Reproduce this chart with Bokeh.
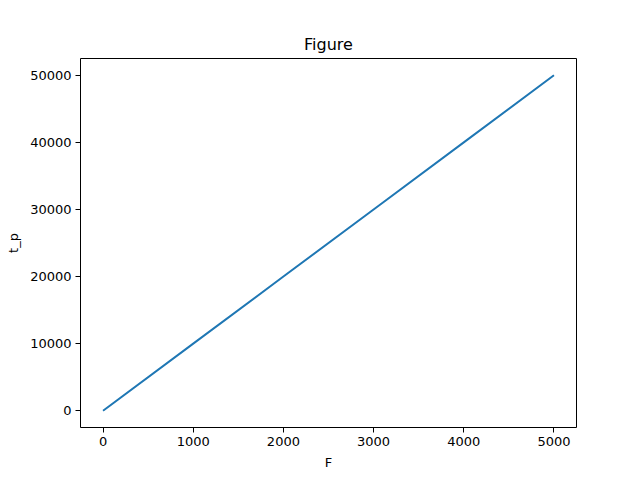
from bokeh.plotting import figure
from bokeh.models import Range1d, FixedTicker
from bokeh.embed import file_html
from bokeh.resources import INLINE

F = [0, 1000, 2000, 3000, 4000, 5000]
t_p = [0, 10000, 20000, 30000, 40000, 50000]
x_ticks = [0, 1000, 2000, 3000, 4000, 5000]
y_ticks = [0, 10000, 20000, 30000, 40000, 50000]

p = figure(width=640, height=480, output_backend="svg", toolbar_location=None,
           x_range=Range1d(-250, 5250), y_range=Range1d(-2500, 52500),
           min_border_left=80, min_border_right=64, min_border_top=58, min_border_bottom=53)

p.line(F, t_p, line_color="#1f77b4", line_width=2)

p.title.text = "Figure"
p.title.align = "center"
p.title.text_font = "DejaVu Sans"
p.title.text_font_size = "16px"
p.title.text_font_style = "normal"
p.title.text_color = "black"
p.title.offset = 0
p.title.standoff = 9

p.outline_line_color = "black"
p.outline_line_width = 1
p.xgrid.visible = False
p.ygrid.visible = False

for ax, ticks, label in ((p.xaxis[0], x_ticks, "F"), (p.yaxis[0], y_ticks, "t_p")):
    ax.ticker = FixedTicker(ticks=ticks)
    ax.axis_label = label
    ax.axis_label_text_font = "DejaVu Sans"
    ax.axis_label_text_font_size = "13px"
    ax.axis_label_text_font_style = "normal"
    ax.axis_label_text_color = "black"
    ax.major_label_text_font = "DejaVu Sans"
    ax.major_label_text_font_size = "13px"
    ax.major_label_text_color = "black"
    ax.axis_line_color = None
    ax.major_tick_in = 0
    ax.major_tick_out = 5
    ax.major_tick_line_color = "black"
    ax.minor_tick_line_color = None
    ax.major_label_standoff = 4
    ax.axis_label_standoff = 6

p.yaxis[0].major_label_orientation = "horizontal"
p.background_fill_color = "white"
p.border_fill_color = "white"

open("out.html", "w").write(file_html(p, INLINE))
